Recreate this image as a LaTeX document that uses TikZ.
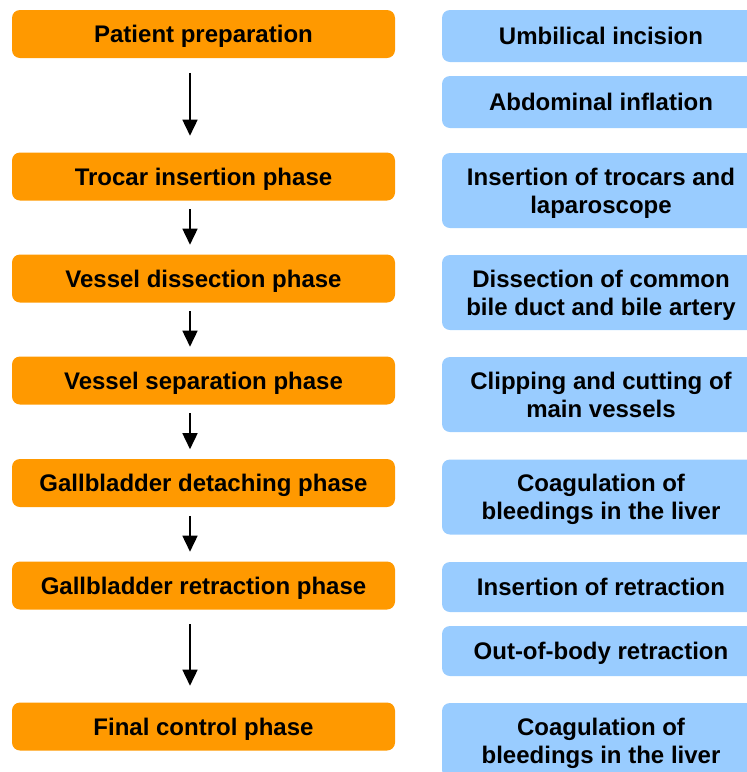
\documentclass[tikz,border=0pt]{standalone}
\usepackage{fontspec}
\setmainfont{Liberation Sans}
\usepackage{tikz}
\usetikzlibrary{arrows.meta}

\definecolor{phaseorange}{HTML}{FF9900}
\definecolor{stepblue}{HTML}{99CCFF}

\begin{document}
\begin{tikzpicture}[x=1pt,y=-1pt,-{Triangle[width=15pt,length=16pt]},line width=1.6pt,
    font=\fontsize{24}{28}\selectfont\bfseries]
    \tikzset{phase/.style={fill=phaseorange,draw=none,rounded corners=8pt,minimum width=383pt,
             minimum height=48pt,inner sep=0pt,align=center,text depth=0pt}}
    \tikzset{stepbox/.style={fill=stepblue,draw=none,rounded corners=8pt,minimum width=318pt,
             minimum height=52pt,inner sep=0pt,align=center,text depth=0pt}}
    \tikzset{tall/.style={minimum height=75pt}}
    \tikzset{short/.style={shorten <=8pt,shorten >=9pt}}
    \tikzset{long/.style={shorten <=14pt,shorten >=16pt}}

    \useasboundingbox (0,0) rectangle (747,772);
    \clip (0,0) rectangle (747,772);

    % phases
    \node[phase] (prep)    at (203.5,34)    {Patient preparation};
    \node[phase] (trocar)  at (203.5,176.5) {Trocar insertion phase};
    \node[phase] (dissect) at (203.5,278.5) {Vessel dissection phase};
    \node[phase] (separ)   at (203.5,380.5) {Vessel separation phase};
    \node[phase] (detach)  at (203.5,483)   {Gallbladder detaching phase};
    \node[phase] (retract) at (203.5,585.5) {Gallbladder retraction phase};
    \node[phase] (final)   at (203.5,726.5) {Final control phase};

    % steps
    \node[stepbox] (umbil)   at (601,36)        {Umbilical incision};
    \node[stepbox] (inflat)  at (601,102)       {Abdominal inflation};
    \node[stepbox,tall] (ins)     at (601,190.5) {Insertion of trocars and\\laparoscope};
    \node[stepbox,tall] (duct)    at (601,292.5) {Dissection of common\\bile duct and bile artery};
    \node[stepbox,tall] (clip)    at (601,394.5) {Clipping and cutting of\\main vessels};
    \node[stepbox,tall] (coag)    at (601,497)   {Coagulation of\\bleedings in the liver};
    \node[stepbox,minimum height=50pt] (insret)  at (601,587) {Insertion of retraction};
    \node[stepbox,minimum height=50pt] (outbody) at (601,651) {Out-of-body retraction};
    \node[stepbox,tall] (coagend) at (601,740.5) {Coagulation of\\bleedings in the liver};

    \draw[long]  ([xshift=-13.5pt]prep.south)    -- ([xshift=-13.5pt]trocar.north);
    \draw[short] ([xshift=-13.5pt]trocar.south)  -- ([xshift=-13.5pt]dissect.north);
    \draw[short] ([xshift=-13.5pt]dissect.south) -- ([xshift=-13.5pt]separ.north);
    \draw[short] ([xshift=-13.5pt]separ.south)   -- ([xshift=-13.5pt]detach.north);
    \draw[short] ([xshift=-13.5pt]detach.south)  -- ([xshift=-13.5pt]retract.north);
    \draw[long]  ([xshift=-13.5pt]retract.south) -- ([xshift=-13.5pt]final.north);
\end{tikzpicture}
\end{document}
